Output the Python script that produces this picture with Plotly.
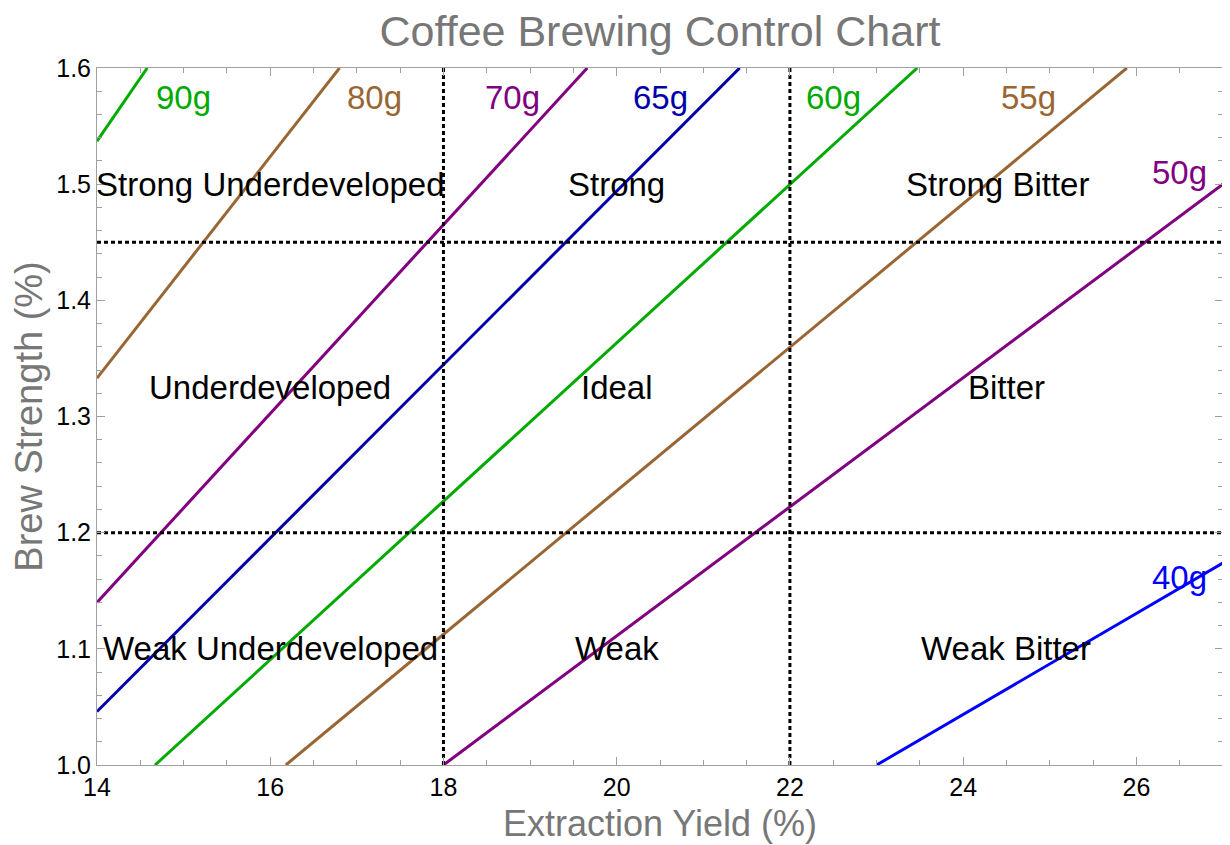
import plotly.graph_objects as go

# Dose lines (visible segment endpoints)
doses = ["90g", "80g", "70g", "65g", "60g", "55g", "50g", "40g"]
line_colors = ["#00aa00", "#996633", "#800080", "#0000aa", "#00aa00", "#996633", "#800080", "#0000ff"]
x_start = [14.0, 14.0, 14.0, 14.0, 14.67, 16.18, 18.0, 23.0]
y_start = [1.537, 1.333, 1.14, 1.046, 1.0, 1.0, 1.0, 1.0]
x_end = [14.58, 16.8, 19.66, 21.42, 23.47, 25.89, 27.0, 27.0]
y_end = [1.6, 1.6, 1.6, 1.6, 1.6, 1.6, 1.5, 1.174]
label_x = [15.0, 17.2, 18.8, 20.5, 22.5, 24.75, 26.5, 26.5]
label_y = [1.575, 1.575, 1.575, 1.575, 1.575, 1.575, 1.51, 1.161]

# Region boundaries
ey_bounds = [18, 22]
bs_bounds = [1.2, 1.45]

# Region labels
region_names = [
    "Strong Underdeveloped", "Strong", "Strong Bitter",
    "Underdeveloped", "Ideal", "Bitter",
    "Weak Underdeveloped", "Weak", "Weak Bitter",
]
region_x = [16.0, 20.0, 24.4, 16.0, 20.0, 24.5, 16.0, 20.0, 24.5]
region_y = [1.5, 1.5, 1.5, 1.325, 1.325, 1.325, 1.1, 1.1, 1.1]

x_ticks = [14, 16, 18, 20, 22, 24, 26]
y_ticks = [1.0, 1.1, 1.2, 1.3, 1.4, 1.5, 1.6]

FONT = "Liberation Sans, Arial, sans-serif"

fig = go.Figure()

for d, c, x0, y0, x1, y1 in zip(doses, line_colors, x_start, y_start, x_end, y_end):
    fig.add_trace(go.Scatter(x=[x0, x1], y=[y0, y1], mode="lines",
                             line=dict(color=c, width=3), name=d,
                             showlegend=False, hoverinfo="skip"))

for xv in ey_bounds:
    fig.add_trace(go.Scatter(x=[xv, xv], y=[1.0, 1.6], mode="lines",
                             line=dict(color="black", width=3, dash="4px,3px"),
                             showlegend=False, hoverinfo="skip"))
for yv in bs_bounds:
    fig.add_trace(go.Scatter(x=[14, 27], y=[yv, yv], mode="lines",
                             line=dict(color="black", width=3, dash="4px,3px"),
                             showlegend=False, hoverinfo="skip"))

for d, c, lx, ly in zip(doses, line_colors, label_x, label_y):
    fig.add_annotation(x=lx, y=ly, text=d, showarrow=False,
                       font=dict(family=FONT, size=33, color=c),
                       xanchor="center", yanchor="middle")

for name, rx, ry in zip(region_names, region_x, region_y):
    fig.add_annotation(x=rx, y=ry, text=name, showarrow=False,
                       font=dict(family=FONT, size=33, color="black"),
                       xanchor="center", yanchor="middle")

axis_common = dict(
    showline=True, linecolor="#a0a0a0", linewidth=1, mirror="allticks",
    ticks="inside", ticklen=8, tickcolor="#a0a0a0", tickwidth=1,
    showgrid=False, zeroline=False,
    tickfont=dict(family=FONT, size=25, color="black"),
    automargin=False,
)

fig.update_xaxes(range=[14, 27], tickvals=x_ticks,
                 ticktext=[str(v) for v in x_ticks],
                 minor=dict(ticks="inside", ticklen=5, tickcolor="#a0a0a0", dtick=0.5, tick0=14),
                 title=dict(text="Extraction Yield (%)", standoff=10,
                            font=dict(family=FONT, size=36, color="#777777")),
                 **axis_common)
fig.update_yaxes(range=[1.0, 1.6], tickvals=y_ticks,
                 ticktext=["%.1f" % v for v in y_ticks],
                 minor=dict(ticks="inside", ticklen=5, tickcolor="#a0a0a0", dtick=0.02, tick0=1.0),
                 title=dict(text="Brew Strength (%)", standoff=3,
                            font=dict(family=FONT, size=38, color="#777777")),
                 **axis_common)

fig.update_layout(
    width=1222, height=837,
    margin=dict(l=89, r=7, t=60, b=80),
    plot_bgcolor="white", paper_bgcolor="white",
    title=dict(text="Coffee Brewing Control Chart", x=0.5, xref="paper",
               y=1 - 23 / 837, yref="container", yanchor="middle",
               font=dict(family=FONT, size=43, color="#777777")),
)

fig.write_html("out.html")
